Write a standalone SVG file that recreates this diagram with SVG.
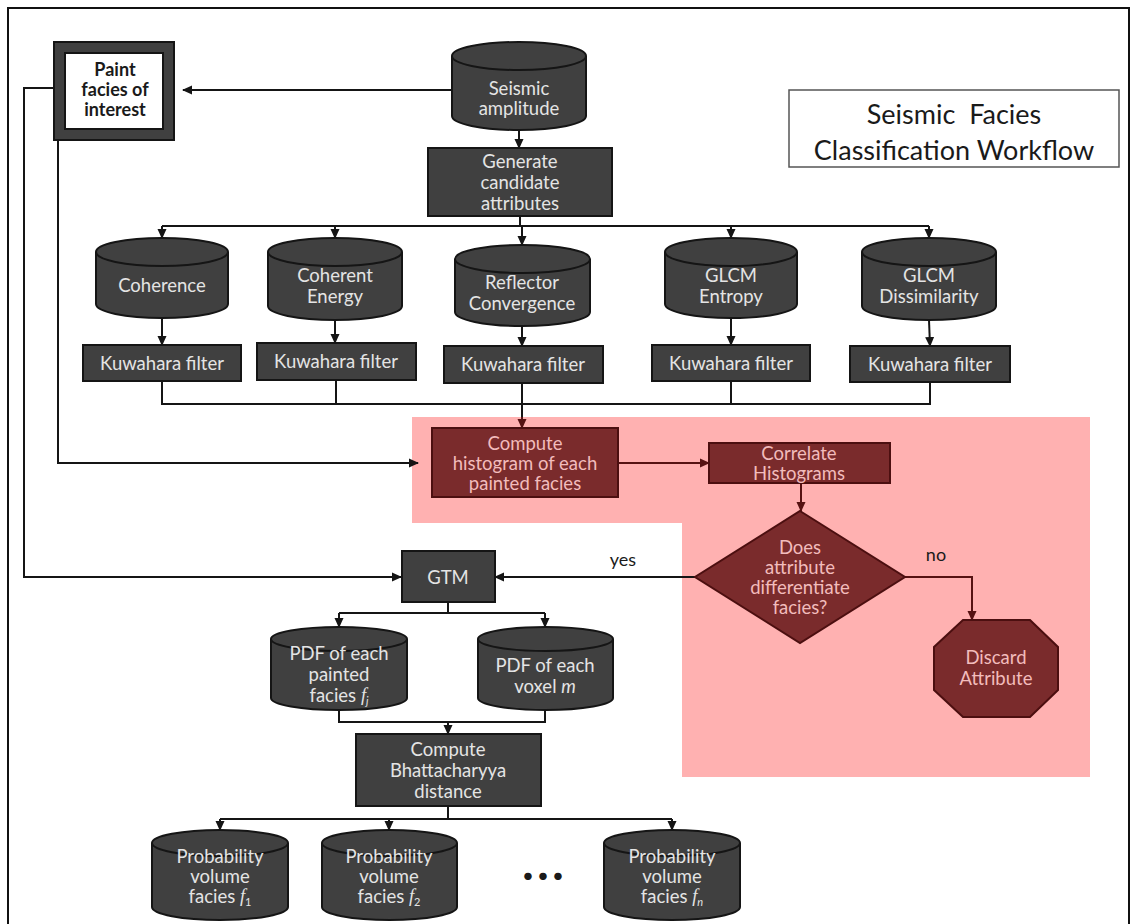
<svg xmlns="http://www.w3.org/2000/svg" width="1134" height="924" viewBox="0 0 1134 924">
<style>
.n{fill:#404040;stroke:#151515;stroke-width:2}
.r{fill:#7a2b2c;stroke:#4c0f10;stroke-width:2}
.t{font-family:Lato,"Liberation Sans",sans-serif;font-size:18.5px;fill:#e4e4e4;text-anchor:middle;dominant-baseline:central}
.tr{font-family:Lato,"Liberation Sans",sans-serif;font-size:18.5px;fill:#f2bcbc;text-anchor:middle;dominant-baseline:central}
.tb{font-family:Lato,"Liberation Sans",sans-serif;fill:#1a1a1a;text-anchor:middle;dominant-baseline:central}
.c{fill:none;stroke:#151515;stroke-width:2}
.cr{fill:none;stroke:#561212;stroke-width:2}
.cyl-top{fill:none;stroke:#151515;stroke-width:2}
</style>
<defs>
<marker id="a" markerUnits="userSpaceOnUse" markerWidth="10" markerHeight="10" refX="9" refY="5" orient="auto"><path d="M0,0.5 L10,5 L0,9.5 Z" fill="#151515"/></marker>
<marker id="ar" markerUnits="userSpaceOnUse" markerWidth="10" markerHeight="10" refX="9" refY="5" orient="auto"><path d="M0,0.5 L10,5 L0,9.5 Z" fill="#561212"/></marker>
</defs>
<rect x="0" y="0" width="1134" height="924" fill="#ffffff"/>
<rect x="8" y="8" width="1121" height="940" fill="none" stroke="#111" stroke-width="2"/>
<polygon points="412,417 1090,417 1090,777 682,777 682,523 412,523" fill="#ffb1b1"/>

<g id="connectors">
<path class="c" d="M452,90 H183" marker-end="url(#a)"/>
<path class="c" d="M54,88 H24 V577 H401" marker-end="url(#a)"/>
<path class="c" d="M58,140 V463 H418" marker-end="url(#a)"/>
<path class="c" d="M519,130 V148" marker-end="url(#a)"/>
<path class="c" d="M520,216 V226"/>
<path class="c" d="M162,226 H929"/>
<path class="c" d="M162,226 V238" marker-end="url(#a)"/>
<path class="c" d="M335,226 V238" marker-end="url(#a)"/>
<path class="c" d="M522,226 V245" marker-end="url(#a)"/>
<path class="c" d="M731,226 V238" marker-end="url(#a)"/>
<path class="c" d="M929,226 V238" marker-end="url(#a)"/>
<path class="c" d="M162,318 V345" marker-end="url(#a)"/>
<path class="c" d="M335,320 V343" marker-end="url(#a)"/>
<path class="c" d="M522,326 V346" marker-end="url(#a)"/>
<path class="c" d="M731,318 V345" marker-end="url(#a)"/>
<path class="c" d="M929,320 L930,346" marker-end="url(#a)"/>
<path class="c" d="M162,381 V404 H930 V382 M336,380 V404 M731,381 V404"/>
<path class="c" d="M522,383 V417"/>
<path class="cr" d="M522,417 V428" marker-end="url(#ar)"/>
<path class="cr" d="M618,463 H709" marker-end="url(#ar)"/>
<path class="cr" d="M801,483 V511" marker-end="url(#ar)"/>
<path class="cr" d="M905,577 H972 V620" marker-end="url(#ar)"/>
<path class="c" d="M695,577 H682"/>
<path class="c" d="M682,577 H495" marker-end="url(#a)"/>
<path class="c" d="M448,602 V613 M339,613 H545"/>
<path class="c" d="M339,613 V627" marker-end="url(#a)"/>
<path class="c" d="M545,613 V627" marker-end="url(#a)"/>
<path class="c" d="M339,710 V722 H545 V710"/>
<path class="c" d="M448,722 V734" marker-end="url(#a)"/>
<path class="c" d="M448,806 V819 M220,819 H672"/>
<path class="c" d="M220,819 V830" marker-end="url(#a)"/>
<path class="c" d="M389,819 V830" marker-end="url(#a)"/>
<path class="c" d="M672,819 V830" marker-end="url(#a)"/>
<text class="tb" x="623" y="559" font-size="18">yes</text>
<text class="tb" x="936" y="554" font-size="18">no</text>
</g>

<g id="title">
<rect x="789" y="90" width="330" height="77" fill="#fff" stroke="#555" stroke-width="1.5"/>
<text class="tb" x="954" y="113" font-size="27" fill="#111" xml:space="preserve">Seismic  Facies</text>
<text class="tb" x="954" y="149" font-size="27" fill="#111">Classification Workflow</text>
</g>

<g id="paint">
<rect x="54" y="42" width="120" height="98" fill="#404040" stroke="#151515" stroke-width="2"/>
<rect x="65" y="53" width="98" height="76" fill="#fff" stroke="#151515" stroke-width="2"/>
<text class="tb" x="115" y="69" font-size="18" font-weight="bold">Paint</text>
<text class="tb" x="115" y="89" font-size="18" font-weight="bold">facies of</text>
<text class="tb" x="115" y="109" font-size="18" font-weight="bold">interest</text>
</g>

<g id="seismic">
<path class="n" d="M452,56 V116 A67,14 0 0 0 586,116 V56 A67,14 0 0 0 452,56 Z"/>
<path class="cyl-top" d="M452,56 A67,14 0 0 0 586,56"/>
<text class="t" x="519" y="88">Seismic</text>
<text class="t" x="519" y="108">amplitude</text>
</g>

<g id="generate">
<rect class="n" x="428" y="148" width="184" height="68"/>
<text class="t" x="520" y="161">Generate</text>
<text class="t" x="520" y="182">candidate</text>
<text class="t" x="520" y="203">attributes</text>
</g>

<g id="coherence">
<path class="n" d="M96,252 V304 A66,14 0 0 0 228,304 V252 A66,14 0 0 0 96,252 Z"/>
<path class="cyl-top" d="M96,252 A66,14 0 0 0 228,252"/>
<text class="t" x="162" y="285">Coherence</text>
</g>
<g id="coherent-energy">
<path class="n" d="M268,252 V306 A67,14 0 0 0 402,306 V252 A67,14 0 0 0 268,252 Z"/>
<path class="cyl-top" d="M268,252 A67,14 0 0 0 402,252"/>
<text class="t" x="335" y="275">Coherent</text>
<text class="t" x="335" y="296">Energy</text>
</g>
<g id="reflector">
<path class="n" d="M455,259 V312 A67.5,14 0 0 0 590,312 V259 A67.5,14 0 0 0 455,259 Z"/>
<path class="cyl-top" d="M455,259 A67.5,14 0 0 0 590,259"/>
<text class="t" x="522" y="282">Reflector</text>
<text class="t" x="522" y="303">Convergence</text>
</g>
<g id="glcm-entropy">
<path class="n" d="M665,252 V304 A66,14 0 0 0 797,304 V252 A66,14 0 0 0 665,252 Z"/>
<path class="cyl-top" d="M665,252 A66,14 0 0 0 797,252"/>
<text class="t" x="731" y="275">GLCM</text>
<text class="t" x="731" y="296">Entropy</text>
</g>
<g id="glcm-dissimilarity">
<path class="n" d="M862,252 V306 A67,14 0 0 0 996,306 V252 A67,14 0 0 0 862,252 Z"/>
<path class="cyl-top" d="M862,252 A67,14 0 0 0 996,252"/>
<text class="t" x="929" y="275">GLCM</text>
<text class="t" x="929" y="296">Dissimilarity</text>
</g>

<g id="kuwahara-1"><rect class="n" x="83" y="345" width="158" height="36"/><text class="t" x="162" y="363">Kuwahara filter</text></g>
<g id="kuwahara-2"><rect class="n" x="257" y="343" width="159" height="37"/><text class="t" x="336" y="361">Kuwahara filter</text></g>
<g id="kuwahara-3"><rect class="n" x="444" y="346" width="159" height="37"/><text class="t" x="523" y="364">Kuwahara filter</text></g>
<g id="kuwahara-4"><rect class="n" x="652" y="345" width="158" height="36"/><text class="t" x="731" y="363">Kuwahara filter</text></g>
<g id="kuwahara-5"><rect class="n" x="850" y="346" width="160" height="36"/><text class="t" x="930" y="364">Kuwahara filter</text></g>

<g id="compute-histogram">
<rect class="r" x="432" y="428" width="186" height="69"/>
<text class="tr" x="525" y="443">Compute</text>
<text class="tr" x="525" y="463">histogram of each</text>
<text class="tr" x="525" y="483">painted facies</text>
</g>
<g id="correlate">
<rect class="r" x="709" y="443" width="181" height="40"/>
<text class="tr" x="799" y="453" font-size="17">Correlate</text>
<text class="tr" x="799" y="473" font-size="17">Histograms</text>
</g>
<g id="decision">
<polygon class="r" points="800,511 905,577 800,643 695,577"/>
<text class="tr" x="800" y="547">Does</text>
<text class="tr" x="800" y="567">attribute</text>
<text class="tr" x="800" y="587">differentiate</text>
<text class="tr" x="800" y="607">facies?</text>
</g>
<g id="discard">
<polygon class="r" points="963,620 1030,620 1058,647 1058,690 1030,717 963,717 934,690 934,647"/>
<text class="tr" x="996" y="657">Discard</text>
<text class="tr" x="996" y="678">Attribute</text>
</g>

<g id="gtm">
<rect class="n" x="402" y="551" width="93" height="51"/>
<text class="t" x="448" y="577" font-size="19">GTM</text>
</g>

<g id="pdf-facies">
<path class="n" d="M271,639 V698 A68,12 0 0 0 407,698 V639 A68,12 0 0 0 271,639 Z"/>
<path class="cyl-top" d="M271,639 A68,12 0 0 0 407,639"/>
<text class="t" x="339" y="653">PDF of each</text>
<text class="t" x="339" y="674">painted</text>
<text class="t" x="339" y="695">facies  <tspan font-style="italic" font-family="'Liberation Serif',serif">f</tspan><tspan font-size="11" dy="5" font-style="italic">j</tspan></text>
</g>
<g id="pdf-voxel">
<path class="n" d="M478,639 V698 A67.5,12 0 0 0 613,698 V639 A67.5,12 0 0 0 478,639 Z"/>
<path class="cyl-top" d="M478,639 A67.5,12 0 0 0 613,639"/>
<text class="t" x="545" y="665">PDF of each</text>
<text class="t" x="545" y="686">voxel <tspan font-style="italic">m</tspan></text>
</g>

<g id="bhattacharyya">
<rect class="n" x="356" y="734" width="185" height="72"/>
<text class="t" x="448" y="749">Compute</text>
<text class="t" x="448" y="770">Bhattacharyya</text>
<text class="t" x="448" y="791">distance</text>
</g>

<g id="prob-1">
<path class="n" d="M152,843 V907 A68,13 0 0 0 288,907 V843 A68,13 0 0 0 152,843 Z"/>
<path class="cyl-top" d="M152,843 A68,13 0 0 0 288,843"/>
<text class="t" x="220" y="856">Probability</text>
<text class="t" x="220" y="876">volume</text>
<text class="t" x="220" y="896">facies <tspan font-style="italic" font-family="'Liberation Serif',serif">f</tspan><tspan font-size="11" dy="5">1</tspan></text>
</g>
<g id="prob-2">
<path class="n" d="M322,843 V907 A67.5,13 0 0 0 457,907 V843 A67.5,13 0 0 0 322,843 Z"/>
<path class="cyl-top" d="M322,843 A67.5,13 0 0 0 457,843"/>
<text class="t" x="389" y="856">Probability</text>
<text class="t" x="389" y="876">volume</text>
<text class="t" x="389" y="896">facies <tspan font-style="italic" font-family="'Liberation Serif',serif">f</tspan><tspan font-size="11" dy="5">2</tspan></text>
</g>
<g id="ellipsis">
<text class="tb" x="545" y="862" font-size="46" font-weight="900" letter-spacing="4">...</text>
</g>
<g id="prob-n">
<path class="n" d="M604,843 V907 A68,13 0 0 0 740,907 V843 A68,13 0 0 0 604,843 Z"/>
<path class="cyl-top" d="M604,843 A68,13 0 0 0 740,843"/>
<text class="t" x="672" y="856">Probability</text>
<text class="t" x="672" y="876">volume</text>
<text class="t" x="672" y="896">facies <tspan font-style="italic" font-family="'Liberation Serif',serif">f</tspan><tspan font-size="11" dy="5" font-style="italic">n</tspan></text>
</g>
</svg>
